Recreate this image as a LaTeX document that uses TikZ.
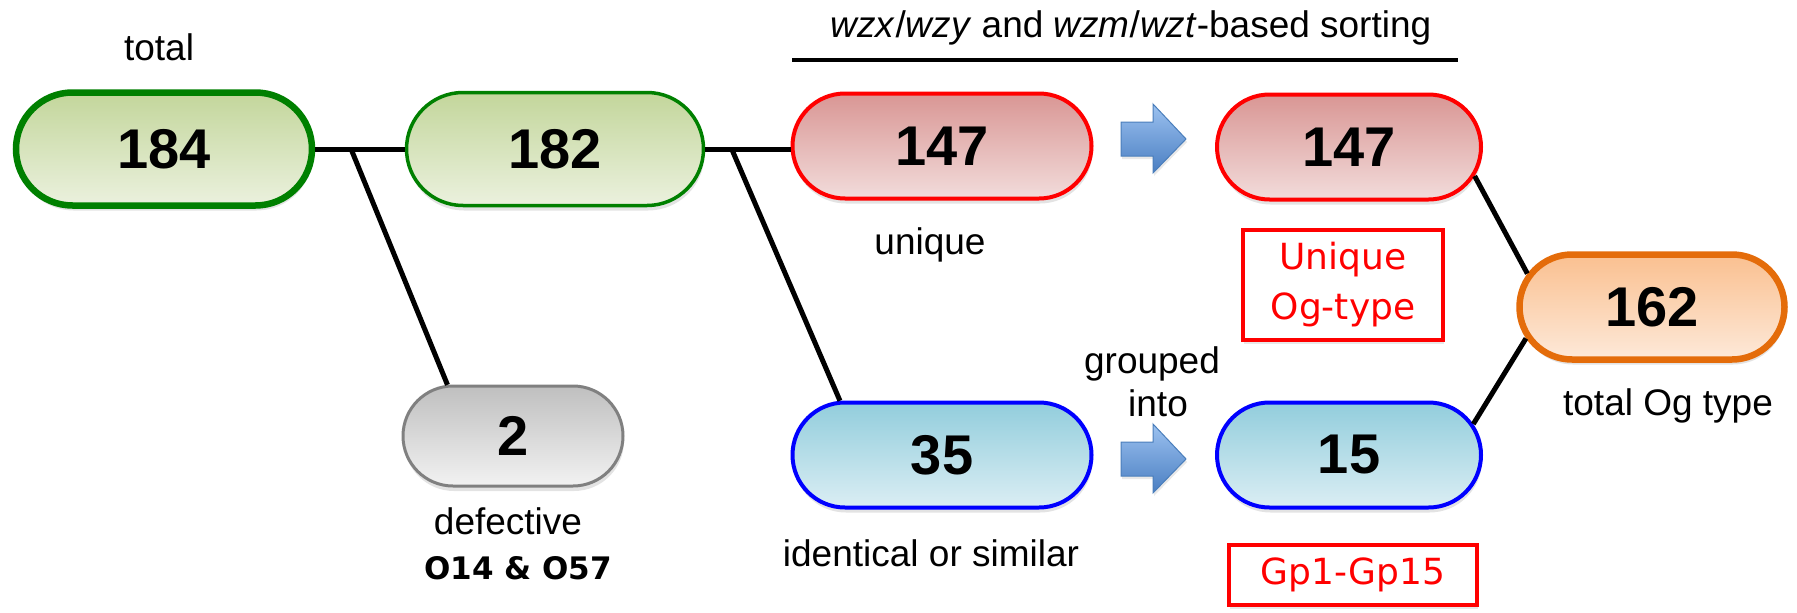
\documentclass[tikz,border=0pt]{standalone}
\usepackage{fontspec}
\setmainfont{Liberation Sans}
\newfontfamily\dvs{DejaVu Sans}
\usetikzlibrary{shapes.misc,shadows,calc}
\definecolor{grnT}{HTML}{C3D69B}\definecolor{grnB}{HTML}{EBF1DE}\definecolor{grnL}{HTML}{008000}
\definecolor{redT}{HTML}{D99694}\definecolor{redB}{HTML}{F2DCDB}\definecolor{redL}{HTML}{FF0000}
\definecolor{bluT}{HTML}{92CDDC}\definecolor{bluB}{HTML}{DBEEF4}\definecolor{bluL}{HTML}{0000FF}
\definecolor{oraT}{HTML}{FAC090}\definecolor{oraB}{HTML}{FDE9D9}\definecolor{oraL}{HTML}{E46C0A}
\definecolor{gryT}{HTML}{BFBFBF}\definecolor{gryB}{HTML}{F2F2F2}\definecolor{gryL}{HTML}{808080}
\definecolor{arrT}{HTML}{9CC2F0}\definecolor{arrB}{HTML}{4A7EC2}\definecolor{arrL}{HTML}{4A7EBB}
\begin{document}
\begin{tikzpicture}[x=1pt,y=-1pt,
  pill/.style={rounded rectangle, inner sep=0pt,
    font=\fontsize{56}{60}\selectfont\bfseries,
    drop shadow={opacity=0.22,shadow xshift=1pt,shadow yshift=-5pt}},
  greenpill/.style={pill, draw=grnL, top color=grnT, bottom color=grnB},
  redpill/.style={pill, draw=redL, line width=4pt, top color=redT, bottom color=redB},
  bluepill/.style={pill, draw=bluL, line width=4pt, top color=bluT, bottom color=bluB},
  orangepill/.style={pill, draw=oraL, line width=6.5pt, top color=oraT, bottom color=oraB},
  graypill/.style={pill, draw=gryL, line width=3pt, top color=gryT, bottom color=gryB},
  lbl/.style={font=\fontsize{37}{44}\selectfont, inner sep=0pt},
  rbox/.style={draw=redL, line width=3.5pt, fill=white, text=red, align=center, inner sep=0pt,
    font=\dvs\fontsize{36}{50}\selectfont,
    drop shadow={opacity=0.18,shadow xshift=1pt,shadow yshift=-4pt}},
  conn/.style={line width=5pt, black},
  barrow/.style={draw=arrL, line width=1pt, top color=arrT, bottom color=arrB,
    drop shadow={opacity=0.18,shadow xshift=1pt,shadow yshift=-3pt}}
]
\useasboundingbox (0,0) rectangle (1797,613);

% nodes
\node[greenpill, line width=6.5pt, minimum width=296, minimum height=113] (n184) at (164,149) {184};
\node[greenpill, line width=3.5pt, minimum width=297, minimum height=113] (n182) at (555,149) {182};
\node[graypill, minimum width=220, minimum height=100] (n2) at (513,436) {2};
\node[redpill, minimum width=299, minimum height=105] (a147) at (942,146) {147};
\node[redpill, minimum width=264, minimum height=105] (b147) at (1349,147) {147};
\node[bluepill, minimum width=299, minimum height=105] (n35) at (942,455) {35};
\node[bluepill, minimum width=264, minimum height=105] (n15) at (1349,455) {15};
\node[orangepill, minimum width=265, minimum height=105] (n162) at (1652,307) {162};

\node[rbox, minimum width=200, minimum height=110] (bu) at (1343,285) {Unique\\Og-type};
\node[rbox, minimum width=248, minimum height=60] (bg) at (1353,575) {Gp1-Gp15};

% connectors
\coordinate (j1) at ($(n184.east)!0.4!(n182.west)$);
\coordinate (j2) at ($(n182.east)!0.31!(a147.west |- n182.east)$);
\draw[conn] (n184.east) -- (n182.west);
\draw[conn] (j1) -- (n2.142);
\draw[conn] (n182.east) -- (a147.west |- n182.east);
\draw[conn] (j2) -- (n35.152);
\draw[conn] (b147.-13) -- (n162.165);
\draw[conn] (n15.14) -- (n162.-166);

% block arrows
\coordinate (ar1) at (1121,139);
\coordinate (ar2) at (1121,459);
\path[barrow] (ar1) ++(0,-17) -- ++(32,0) -- ++(0,-18) -- ++(33,35) -- ++(-33,34) -- ++(0,-17) -- ++(-32,0) -- cycle;
\path[barrow] (ar2) ++(0,-17) -- ++(32,0) -- ++(0,-18) -- ++(33,35) -- ++(-33,34) -- ++(0,-17) -- ++(-32,0) -- cycle;

% title and rule
\node[lbl, anchor=base] (ltitle) at (1131,37) {\textit{wzx}/\textit{wzy} and \textit{wzm}/\textit{wzt}-based sorting};
\coordinate (tl1) at (792,60);
\coordinate (tl2) at (1458,60);
\draw[line width=4pt] (tl1) -- (tl2);

% labels
\node[lbl, anchor=base] (ltotal) at (159,60) {total};
\node[lbl, anchor=base] (luniq) at (930,254) {unique};
\node[lbl, anchor=base] (ldef) at (508,534) {defective};
\node[anchor=base, inner sep=0pt, font=\dvs\bfseries\fontsize{31}{36}\selectfont] (lO) at (518,579) {O14 \& O57};
\node[lbl, anchor=base] (lident) at (931,566) {identical or similar};
\node[lbl, anchor=base] (lgrp1) at (1152,373) {grouped};
\node[lbl, anchor=base] (lgrp2) at (1158,416) {into};
\node[lbl, anchor=base] (ltog) at (1668,415) {total Og type};
\end{tikzpicture}
\end{document}
